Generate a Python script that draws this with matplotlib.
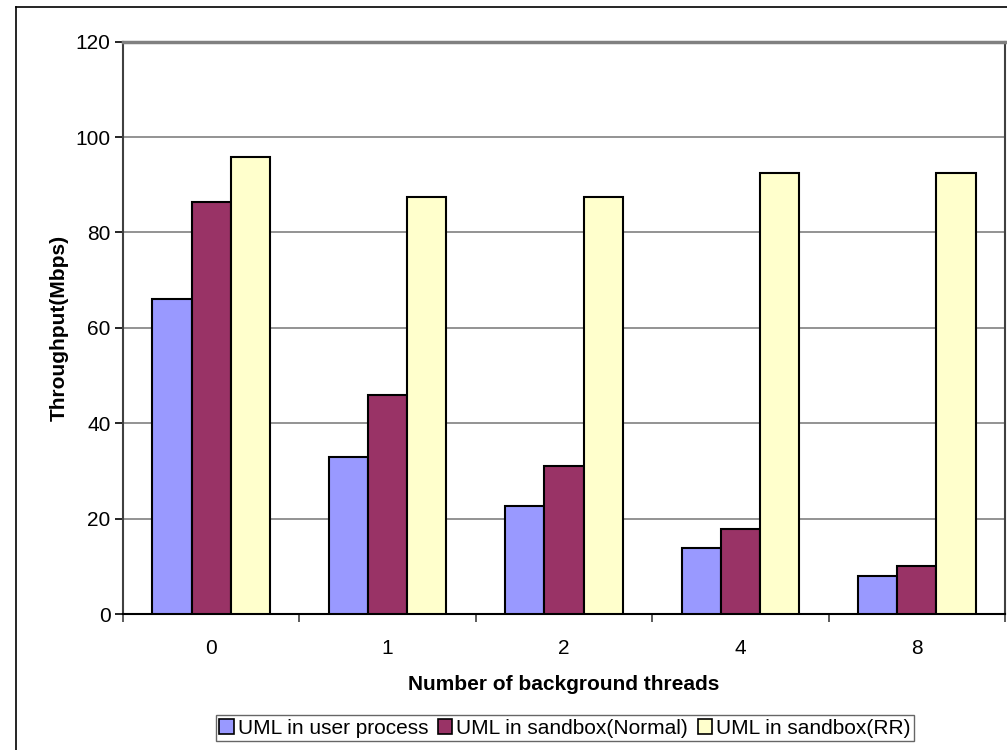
import numpy as np
import matplotlib.pyplot as plt
from matplotlib.lines import Line2D

plt.rcParams['font.family'] = ['Liberation Sans', 'DejaVu Sans']

threads = ["0", "1", "2", "4", "8"]
user_process = [66.0, 33.0, 22.6, 13.8, 7.9]
sandbox_normal = [86.4, 46.0, 31.0, 17.8, 10.1]
sandbox_rr = [95.8, 87.4, 87.4, 92.4, 92.4]

series = [
    ("UML in user process", user_process, "#9999FF"),
    ("UML in sandbox(Normal)", sandbox_normal, "#993366"),
    ("UML in sandbox(RR)", sandbox_rr, "#FFFFCC"),
]

fig = plt.figure(figsize=(10.07, 7.5), dpi=100)
ax = fig.add_axes([0.1221, 0.1813, 0.998 - 0.1221, 0.9445 - 0.1813])

# outer chart frame (top and left edges visible)
fig.add_artist(Line2D([16 / 1007, 1.0], [1 - 7 / 750, 1 - 7 / 750],
                      transform=fig.transFigure, color="black", lw=1.2))
fig.add_artist(Line2D([16 / 1007, 16 / 1007], [0.0, 1 - 7 / 750],
                      transform=fig.transFigure, color="black", lw=1.2))

x = np.arange(len(threads))
w = 1 / 4.5
for i, (name, vals, col) in enumerate(series):
    ax.bar(x + (i - 1) * w, vals, width=w, color=col, edgecolor="black",
           linewidth=1.5, label=name, zorder=3)

ax.set_xlim(-0.5, len(threads) - 0.5)
ax.set_ylim(0, 120)
ax.set_yticks(np.arange(0, 121, 20))
ax.set_xticks(x)
ax.set_xticklabels(threads)
ax.set_xticks(np.arange(-0.5, len(threads), 1), minor=True)
ax.tick_params(axis="x", which="major", length=0, pad=18, labelsize=15)
ax.tick_params(axis="x", which="minor", length=6, width=1.2, color="#404040")
ax.tick_params(axis="y", length=6, width=1.2, labelsize=15, pad=3)

for v in range(20, 120, 20):
    ax.axhline(v, color="#808080", lw=1.2, zorder=1)

ax.spines["top"].set_color("#808080")
ax.spines["top"].set_linewidth(2.5)
ax.spines["right"].set_color("#404040")
ax.spines["right"].set_linewidth(1.5)
ax.spines["left"].set_color("#404040")
ax.spines["left"].set_linewidth(1.5)
ax.spines["bottom"].set_color("black")
ax.spines["bottom"].set_linewidth(1.5)

ax.set_ylabel("Throughput(Mbps)", fontsize=15, fontweight="bold", labelpad=5)
ax.set_xlabel("Number of background threads", fontsize=15, fontweight="bold",
              labelpad=12)

leg = fig.legend(loc="center", bbox_to_anchor=(565 / 1007, 1 - 728 / 750),
                 ncol=3, fontsize=15, frameon=True, fancybox=False,
                 handlelength=0.7, handleheight=0.7, handletextpad=0.2,
                 columnspacing=0.45, borderpad=0.15, borderaxespad=0)
leg.get_frame().set_edgecolor("#404040")
leg.get_frame().set_linewidth(1.0)
for h in leg.legend_handles:
    h.set_linewidth(1.2)

fig.savefig("out.png", dpi=100)
